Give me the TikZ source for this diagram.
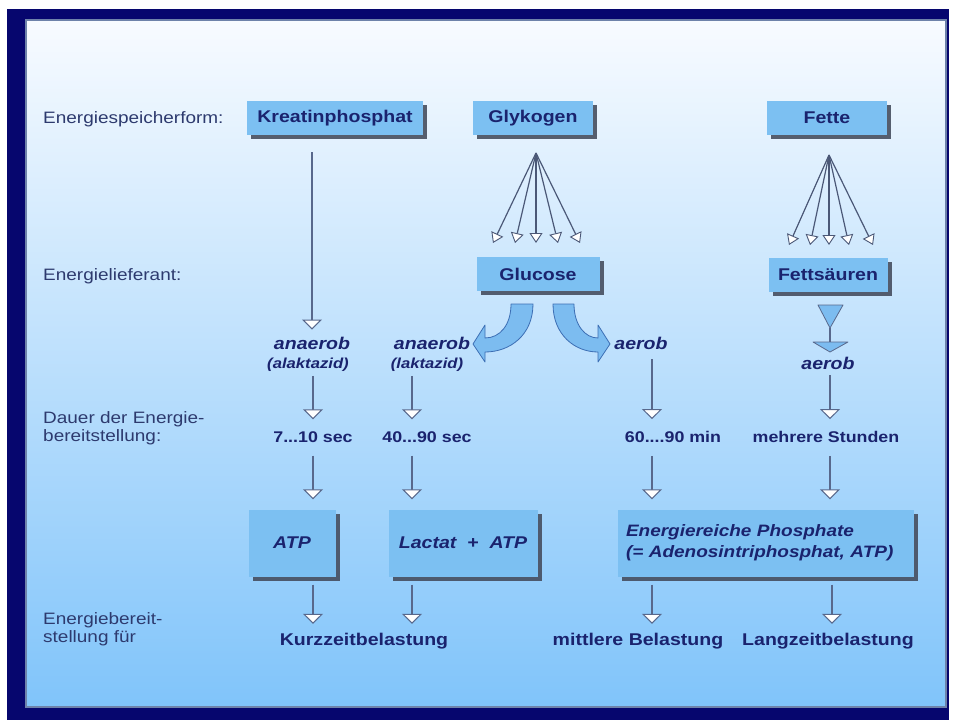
\documentclass[tikz,border=0pt]{standalone}
\usepackage{fontspec}
\setmainfont{Liberation Sans}[FakeStretch=1.15]
\usetikzlibrary{arrows.meta,shadows,calc}
\definecolor{navy}{RGB}{6,6,110}
\definecolor{boxblue}{RGB}{124,192,242}
\definecolor{txt}{RGB}{26,35,110}
\definecolor{lbl}{RGB}{45,58,110}
\definecolor{arr}{RGB}{88,104,140}
\definecolor{shad}{RGB}{70,78,95}
\definecolor{ptop}{RGB}{248,251,255}
\definecolor{pmid}{RGB}{185,222,246}
\definecolor{pbot}{RGB}{128,196,250}
\definecolor{pedge}{RGB}{110,130,170}
\definecolor{barrow}{RGB}{124,188,240}
\definecolor{barrowd}{RGB}{60,110,180}
\tikzset{
  box/.style={fill=boxblue, inner sep=0pt, text=txt,
    font=\fontsize{17}{20}\selectfont\bfseries,
    drop shadow={shadow xshift=4pt, shadow yshift=-4pt, fill=shad, opacity=0.9}},
  lab/.style={anchor=west, align=left, inner sep=0pt, text=lbl,
    font=\fontsize{16.5}{18}\selectfont},
  itl/.style={inner sep=0pt, text=txt, font=\fontsize{17}{20}\selectfont\bfseries\itshape},
  itsmall/.style={inner sep=0pt, text=txt, font=\fontsize{14.5}{17}\selectfont\bfseries\itshape},
  tm/.style={inner sep=0pt, text=txt, font=\fontsize{15.5}{18}\selectfont\bfseries},
  bot/.style={inner sep=0pt, text=txt, font=\fontsize{17}{20}\selectfont\bfseries},
  va/.style={draw=arr, line width=1.6pt,
    -{Triangle[width=20pt,length=10pt,fill=white,line width=1pt]}},
  fan/.style={draw=arr!85!black, line width=1.2pt,
    -{Triangle[width=13pt,length=10pt,fill=white,line width=0.9pt]}},
  blockarrow/.style={fill=barrow, draw=barrowd, line width=0.8pt, line join=round}
}
\begin{document}
\begin{tikzpicture}[x=1pt,y=-1pt]
\useasboundingbox (0,0) rectangle (954,720);
\fill[white] (0,0) rectangle (954,720);
\fill[navy] (7,9) rectangle (949,720);
\shade[top color=ptop, middle color=pmid, bottom color=pbot] (26,20) rectangle (946,707);
\draw[pedge, line width=1.5pt] (26,20) rectangle (946,707);

% left labels
\node[lab] (l1) at (43,119) {Energiespeicherform:};
\node[lab] (l2) at (43,276) {Energielieferant:};
\node[lab] (l3) at (43,428) {Dauer der Energie-\\bereitstellung:};
\node[lab] (l4) at (43,629) {Energiebereit-\\stellung für};

% boxes
\node[box, minimum width=176pt, minimum height=34pt] (kp) at (335,118) {Kreatinphosphat};
\node[box, minimum width=120pt, minimum height=34pt] (gly) at (533,118) {Glykogen};
\node[box, minimum width=120pt, minimum height=34pt] (fe) at (827,118) {Fette};
\node[box, minimum width=123pt, minimum height=34pt] (glu) at (538,274) {Glucose};
\node[box, minimum width=119pt, minimum height=34pt] (fs) at (828,275) {Fettsäuren};
\node[box, minimum width=87pt, minimum height=67pt, font=\fontsize{17}{20}\selectfont\bfseries\itshape] (atp) at (292,543) {ATP};
\node[box, minimum width=149pt, minimum height=67pt, font=\fontsize{17}{20}\selectfont\bfseries\itshape] (lac) at (463,543) {Lactat\ \ +\ \ ATP};
\node[box, minimum width=296pt, minimum height=67pt, align=left, text width=280pt,
      font=\fontsize{16.5}{21}\selectfont\bfseries\itshape] (ep) at (766,543)
      {Energiereiche Phosphate\\(= Adenosintriphosphat, ATP)};

% middle texts
\node[itl] (an1) at (312,343) {anaerob};
\node[itsmall] (al1) at (308,365) {(alaktazid)};
\node[itl] (an2) at (432,343) {anaerob};
\node[itsmall] (al2) at (427,365) {(laktazid)};
\node[itl] (aer1) at (641,343) {aerob};
\node[itl] (aer2) at (828,363) {aerob};

\node[tm] (t1) at (313,437) {7...10 sec};
\node[tm] (t2) at (427,437) {40...90 sec};
\node[tm] (t3) at (673,437) {60....90 min};
\node[tm] (t4) at (826,437) {mehrere Stunden};

\node[bot] (b1) at (364,641) {Kurzzeitbelastung};
\node[bot] (b2) at (638,641) {mittlere Belastung};
\node[bot] (b3) at (828,641) {Langzeitbelastung};

% fan arrows Glykogen -> Glucose
\coordinate (gs) at (536,153);
\foreach \i/\x in {1/493,2/515,3/536,4/558,5/580}{
  \coordinate (gt\i) at (\x,243);
  \draw[fan] (gs) -- (gt\i);
}
% fan arrows Fette -> Fettsaeuren
\coordinate (fsrc) at (829,155);
\foreach \i/\x in {1/789,2/810,3/829,4/849,5/873}{
  \coordinate (ft\i) at (\x,245);
  \draw[fan] (fsrc) -- (ft\i);
}

% Glucose block arrows
\filldraw[blockarrow] (511,304) -- (533,304) .. controls (533,335) and (510,352) .. (485,352)
  -- (485,362) -- (473,344) -- (485,325) -- (485,338)
  .. controls (500,338) and (511,325) .. (511,304) -- cycle;
\filldraw[blockarrow] (574,304) -- (553,304) .. controls (553,335) and (575,352) .. (598,352)
  -- (598,362) -- (610,344) -- (598,325) -- (598,338)
  .. controls (585,338) and (574,325) .. (574,304) -- cycle;

% Fettsaeuren funnel arrow
\filldraw[blockarrow, draw=arr] (818,305) -- (843,305) -- (830,328) -- cycle;
\draw[arr, line width=1.4pt] (830,328) -- (830,342);
\filldraw[blockarrow, draw=arr] (813,342) -- (848,342) -- (830,352) -- cycle;

% vertical arrows
\draw[va] ($(kp.south -| an1)+(0,17)$) -- ($(an1.north)+(0,-7)$);
\draw[va] ($(t1 |- al1.south)+(0,4)$) -- ($(t1.north)+(0,-12)$);
\draw[va] ($(al2.south)+(-15,4)$) -- ($(t2.north)+(-15,-12)$);
\draw[va] ($(aer1.south)+(11,10)$) -- ($(t3.north)+(-21,-12)$);
\draw[va] ($(aer2.south)+(2,6)$) -- ($(t4.north)+(4,-12)$);

\draw[va] ($(t1.south)+(0,13)$) -- ($(atp.north)+(21,-10)$);
\draw[va] ($(t2.south)+(-15,13)$) -- ($(lac.north)+(-51,-10)$);
\draw[va] ($(t3.south)+(-21,13)$) -- ($(ep.north)+(-114,-10)$);
\draw[va] ($(t4.south)+(4,13)$) -- ($(ep.north)+(64,-10)$);

\draw[va] ($(atp.south)+(21,8)$) -- ($(b1.north)+(-51,-9)$);
\draw[va] ($(lac.south)+(-51,8)$) -- ($(b1.north)+(48,-9)$);
\draw[va] ($(ep.south)+(-114,8)$) -- ($(b2.north)+(14,-9)$);
\draw[va] ($(ep.south)+(66,8)$) -- ($(b3.north)+(4,-9)$);
\end{tikzpicture}
\end{document}
